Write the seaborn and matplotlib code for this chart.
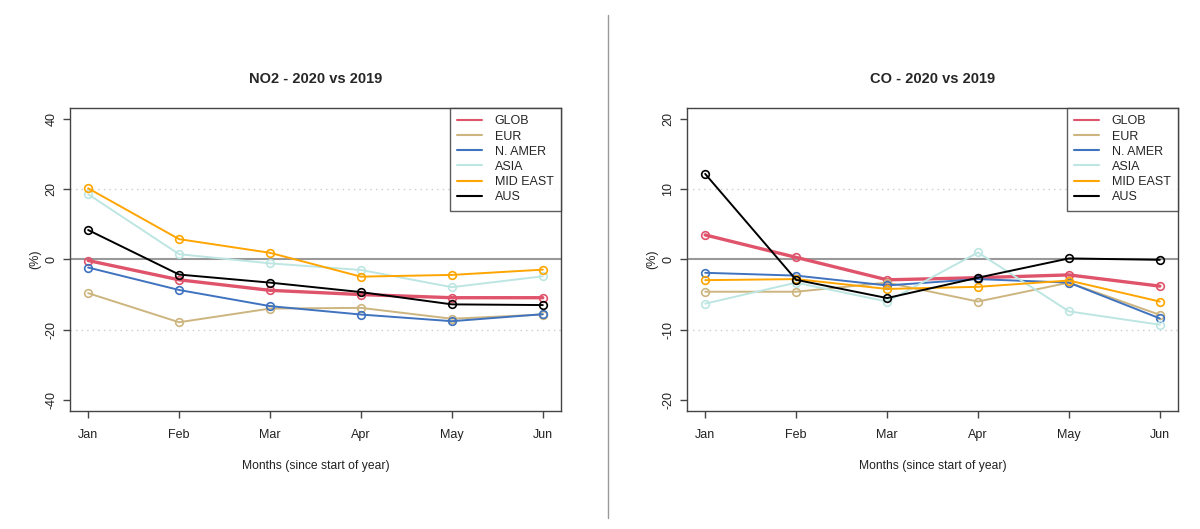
import matplotlib
matplotlib.use("Agg")
import matplotlib.pyplot as plt
import seaborn as sns
import pandas as pd

months = ["Jan", "Feb", "Mar", "Apr", "May", "Jun"]
regions = ["GLOB", "EUR", "N. AMER", "ASIA", "MID EAST", "AUS"]
colors = ["#DF536B", "#CDB57F", "#3F72BF", "#BDE6E2", "#FFA500", "#000000"]

no2_glob = [-0.3, -5.8, -8.8, -10.0, -10.9, -10.9]
no2_eur = [-9.6, -17.9, -14.0, -13.8, -16.9, -15.7]
no2_namer = [-2.3, -8.7, -13.3, -15.7, -17.6, -15.6]
no2_asia = [18.6, 1.5, -1.1, -3.0, -7.9, -4.8]
no2_mideast = [20.3, 5.8, 1.9, -4.9, -4.4, -2.9]
no2_aus = [8.4, -4.3, -6.6, -9.3, -12.8, -13.0]

co_glob = [3.5, 0.3, -2.9, -2.6, -2.2, -3.8]
co_eur = [-4.6, -4.6, -3.3, -6.0, -3.3, -7.9]
co_namer = [-1.9, -2.3, -3.7, -2.8, -3.3, -8.4]
co_asia = [-6.3, -3.3, -6.0, 1.0, -7.4, -9.3]
co_mideast = [-2.95, -2.8, -4.2, -3.9, -3.0, -6.0]
co_aus = [12.2, -2.9, -5.5, -2.6, 0.15, -0.05]

panels = [
    ("NO2 - 2020 vs 2019", [no2_glob, no2_eur, no2_namer, no2_asia, no2_mideast, no2_aus], 40, 20),
    ("CO - 2020 vs 2019", [co_glob, co_eur, co_namer, co_asia, co_mideast, co_aus], 20, 10),
]

sns.set_style("white")
plt.rcParams["font.family"] = ["Liberation Sans", "DejaVu Sans"]

fig = plt.figure(figsize=(12, 5.29), dpi=100)
positions = [[0.0583, 0.2231, 0.4092, 0.5728], [0.5725, 0.2231, 0.4092, 0.5728]]

x_idx = list(range(1, len(months) + 1))
frame_col = "#444444"

for pos, (title, series, lim, grid) in zip(positions, panels):
    ax = fig.add_axes(pos)
    ax.axhline(0, color="#999999", lw=1.5, zorder=1)
    for g in (-grid, grid):
        ax.axhline(g, color="#CCCCCC", lw=1.0, ls=(0, (1, 3)), zorder=1)
    for name, vals, col in zip(regions, series, colors):
        df = pd.DataFrame({"x": x_idx, "y": vals})
        lw = 2.4 if name == "GLOB" else 1.4
        sns.lineplot(data=df, x="x", y="y", ax=ax, color=col, lw=lw,
                     marker="o", markersize=5.5, markerfacecolor="none",
                     markeredgecolor=col, markeredgewidth=1.2, label=name,
                     zorder=3)
    ext = lim * 1.08
    ax.set_ylim(-ext, ext)
    ax.set_xlim(0.8, 6.2)
    ax.set_xticks(x_idx)
    ax.set_xticklabels(months, fontsize=9)
    ticks = [-lim, -grid, 0, grid, lim]
    ax.set_yticks(ticks)
    ax.set_yticklabels([str(t) for t in ticks], fontsize=9, rotation=90, va="center")
    ax.tick_params(axis="both", direction="out", length=5, width=1, color=frame_col,
                   left=True, bottom=True, labelcolor="#222222", pad=4)
    ax.tick_params(axis="x", pad=8)
    for s in ax.spines.values():
        s.set_color(frame_col)
        s.set_linewidth(1.0)
    ax.set_xlabel("Months (since start of year)", fontsize=8.7, labelpad=14, color="#222222")
    ax.set_ylabel("(%)", fontsize=9, labelpad=3, color="#222222")
    ax.set_title(title, fontsize=10.5, fontweight="bold", pad=18)
    leg = ax.legend(loc="upper right", borderaxespad=0, fontsize=9, frameon=True,
                    fancybox=False, handlelength=2.0, handletextpad=1.0,
                    labelspacing=0.25, borderpad=0.6)
    leg.get_frame().set_edgecolor("#333333")
    leg.get_frame().set_linewidth(1.0)
    for h in leg.get_lines():
        h.set_marker("")
        h.set_linewidth(1.5)

fig.add_artist(plt.Line2D([0.5067, 0.5067], [1 - 15 / 529, 1 - 518 / 529],
                          color="#999999", lw=1.0, transform=fig.transFigure))

fig.savefig("out.png", dpi=100, facecolor="white")
